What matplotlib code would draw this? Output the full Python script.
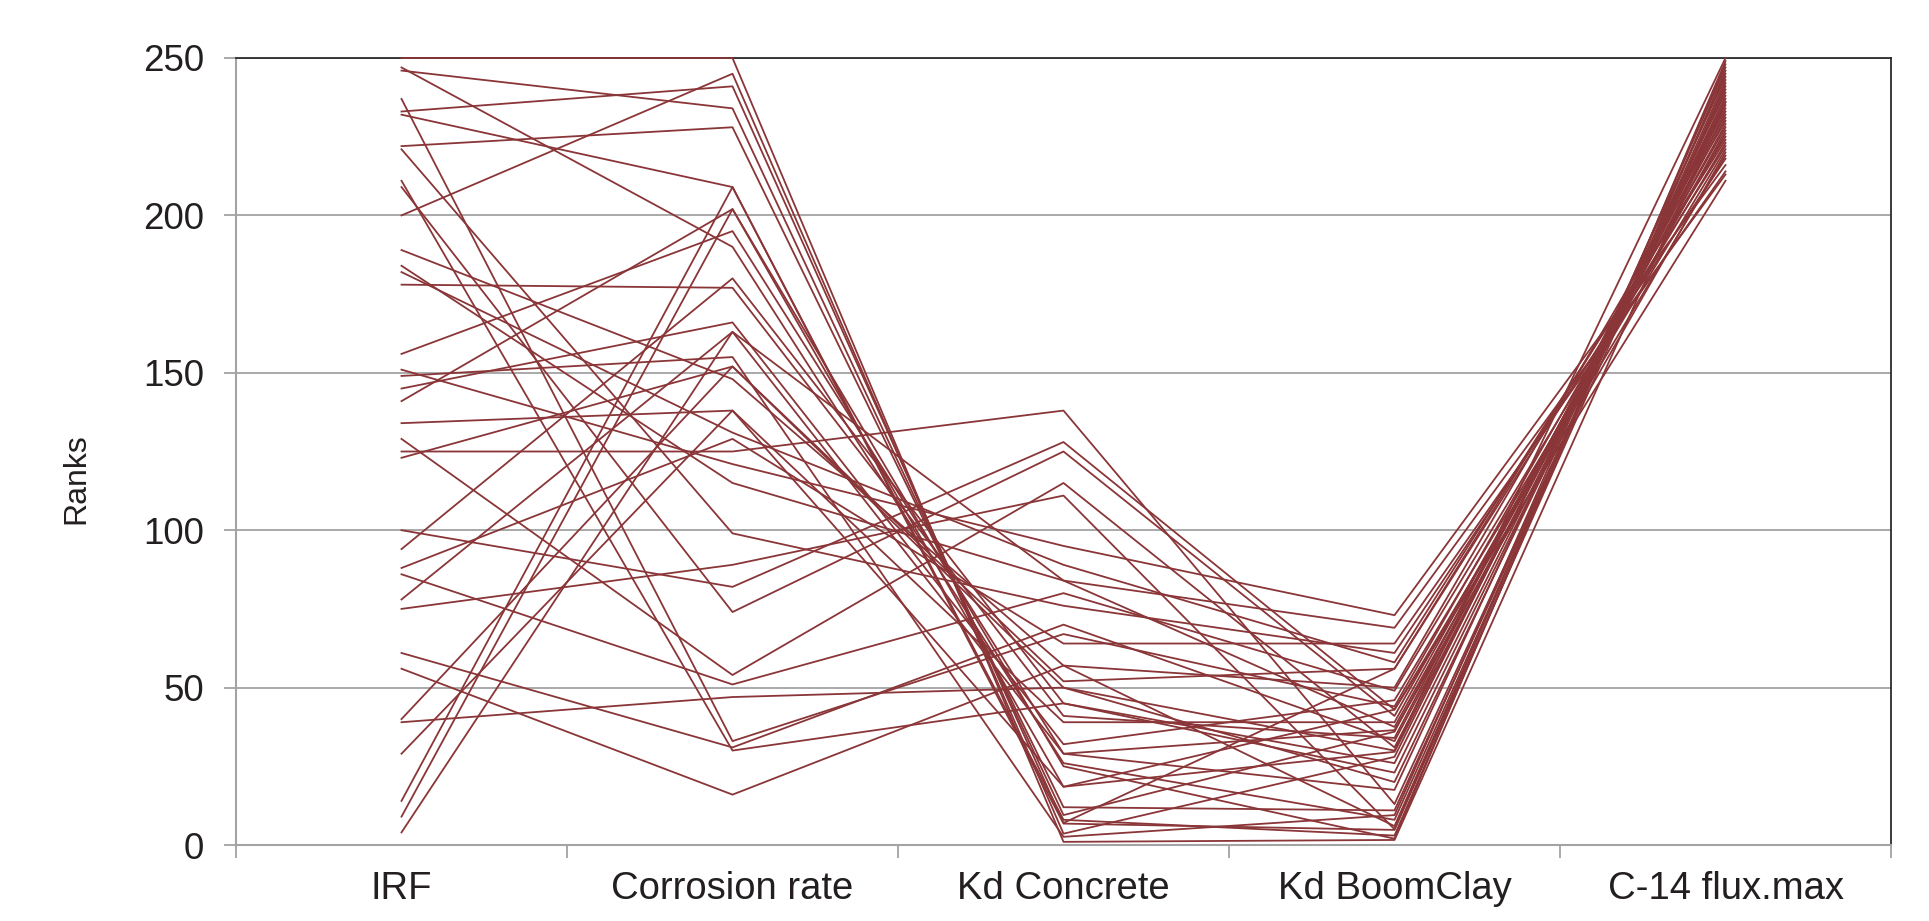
import matplotlib.pyplot as plt

# Axis categories
categories = ["IRF", "Corrosion rate", "Kd Concrete", "Kd BoomClay", "C-14 flux.max"]

# Ranks of each run on every parameter (one entry per line)
irf = [250, 247, 246, 237, 233, 232, 222, 221, 211, 209, 200, 189, 184, 182, 178,
       156, 151, 149, 145, 141, 134, 129, 125, 123, 100, 94, 88, 86, 78, 75,
       61, 56, 40, 39, 29, 14, 9, 4]
corrosion = [250, 190, 234, 33, 241, 209, 228, 99, 30, 74, 245, 148, 115, 131, 177,
             195, 121, 155, 166, 202, 138, 54, 125, 152, 82, 180, 129, 51, 163, 89,
             31, 16, 152, 47, 138, 209, 202, 163]
kd_concrete = [1, 26, 9.5, 67, 7, 8, 12, 76, 45, 125, 3.6, 57, 84, 89, 41,
               29, 95, 2.6, 32, 25, 39, 115, 138, 52, 128, 45, 64, 80, 84, 111,
               70, 57, 50, 50, 18.5, 6.8, 18.5, 29]
kd_boomclay = [1.6, 8, 36, 44, 56, 3, 11, 61, 23, 41, 28, 50, 69, 58, 34,
               17.5, 73, 9.5, 46, 2, 39, 31, 13, 56, 43, 26, 64, 49, 37.5, 5,
               33, 6, 30, 20, 29.6, 4.8, 43, 36.5]
c14_flux = [236, 243, 232, 228, 222, 246, 241, 218, 237, 226, 239, 230, 213, 224, 234,
            244, 216, 247, 221, 249, 229, 233, 240, 225, 219, 236, 214, 223, 227, 242,
            231, 245, 250, 238, 235, 248, 211, 220]

line_color = "#8A3537"
grid_color = "#A3A3A3"
text_color = "#231F20"

plt.rcParams['font.family'] = ['Liberation Sans', 'DejaVu Sans']

fig = plt.figure(figsize=(19.29, 9.21), dpi=100)
ax = fig.add_axes([236 / 1929, 76 / 921, 1655 / 1929, 787 / 921])

# One polyline per run across the five parameters
x = list(range(len(categories)))
for row in zip(irf, corrosion, kd_concrete, kd_boomclay, c14_flux):
    ax.plot(x, row, color=line_color, linewidth=1.3, clip_on=False, zorder=3)

ax.set_xlim(-0.5, len(categories) - 0.5)
ax.set_ylim(0, 250)

# Horizontal gridlines
ax.set_yticks([0, 50, 100, 150, 200, 250])
ax.yaxis.grid(True, color=grid_color, linewidth=1.3)
ax.set_axisbelow(True)

# Category labels in the middle, tick marks on the boundaries
ax.set_xticks(x)
ax.set_xticklabels(categories)
ax.set_xticks([i - 0.5 for i in range(len(categories) + 1)], minor=True)
ax.tick_params(axis='x', which='major', length=0, pad=19, labelsize=27.5,
               labelcolor=text_color)
ax.tick_params(axis='x', which='minor', length=9, width=1.3, color=grid_color,
               direction='out')
ax.tick_params(axis='y', length=9, width=1.3, color=grid_color, pad=14,
               labelsize=26.5, labelcolor=text_color)

ax.set_ylabel("Ranks", fontsize=23, color=text_color, va='center')
ax.yaxis.set_label_coords((76 - 236) / 1655, 0.465)

# Frame: grey left/bottom, dark top/right
ax.spines['left'].set_color(grid_color)
ax.spines['left'].set_linewidth(1.5)
ax.spines['bottom'].set_color(grid_color)
ax.spines['bottom'].set_linewidth(1.5)
ax.spines['top'].set_color("#2B2B2B")
ax.spines['top'].set_linewidth(1.3)
ax.spines['right'].set_color("#2B2B2B")
ax.spines['right'].set_linewidth(1.3)

fig.savefig("out.png", dpi=100)
